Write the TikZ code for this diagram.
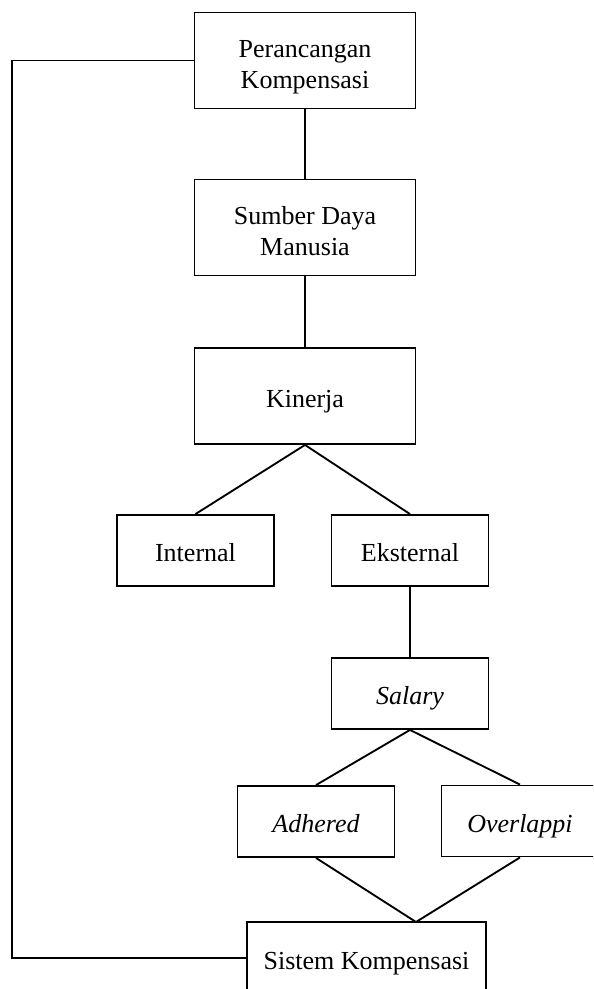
\documentclass[tikz,border=0pt]{standalone}
\usepackage{fontspec}
\setmainfont{Liberation Serif}
\usepackage{tikz}
\usetikzlibrary{positioning}

\begin{document}
\begin{tikzpicture}[x=0.75pt,y=-0.75pt,line width=1.4pt,
    kotak/.style={draw,align=center,inner sep=0pt,font=\fontsize{19.5}{23}\selectfont},
    satu/.style={text height=18pt,text depth=1.5pt},
    dua/.style={text height=42pt,text depth=0.75pt},
    besar/.style={kotak,minimum width=221*0.75pt,minimum height=96*0.75pt},
    kecil/.style={kotak,satu,minimum width=157*0.75pt,minimum height=71*0.75pt}]
    \useasboundingbox (0,0) rectangle (593,989); \clip (0,0) rectangle (593,989);
    \node[besar,dua] (rancang) at (305,60.5) {Perancangan\\Kompensasi};
    \node[besar,dua] (sdm) at (305,227.5) {Sumber Daya\\Manusia};
    \node[besar,satu] (kinerja) at (305,396) {Kinerja};
    \node[kecil] (internal) at (195.5,550.5) {Internal};
    \node[kecil] (eksternal) at (410,550.5) {Eksternal};
    \node[kecil] (salary) at (410,693.5) {\itshape Salary};
    \node[kecil] (adhered) at (316,821.5) {\itshape Adhered};
    \node[kecil] (overlap) at (520,821) {\itshape Overlappi};
    \node[kotak,satu,minimum width=239*0.75pt,minimum height=72*0.75pt] (sistem) at (366.5,958) {Sistem Kompensasi};
    \coordinate (temu) at (416,922); \coordinate (kiri) at (12,958);
    \draw (rancang) -- (sdm); \draw (sdm) -- (kinerja);
    \draw (kinerja.south) -- (internal.north); \draw (kinerja.south) -- (eksternal.north);
    \draw (eksternal) -- (salary);
    \draw (salary.south) -- (adhered.north); \draw (salary.south) -- (overlap.north);
    \draw (adhered.south) -- (temu) -- (overlap.south);
    \draw (rancang.west) -| (kiri) -- (sistem.west);
  \end{tikzpicture}
\end{document}
